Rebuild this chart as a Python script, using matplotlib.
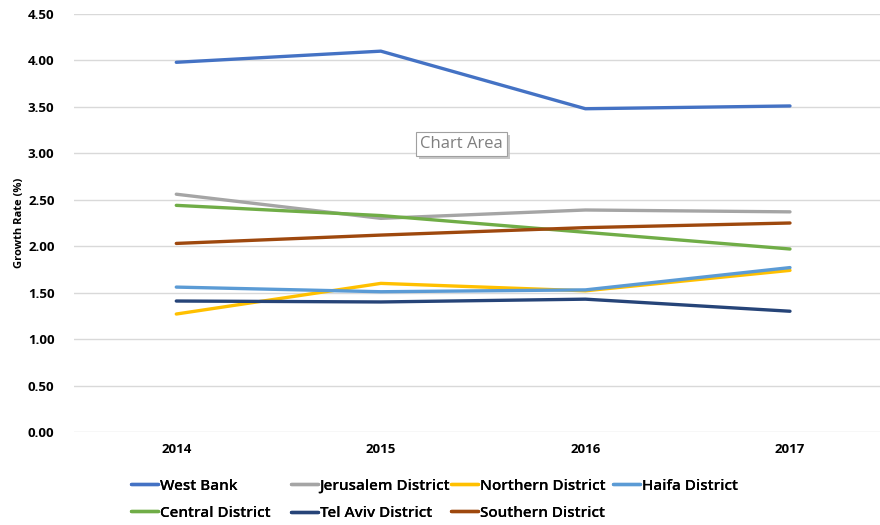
import numpy as np
import matplotlib.pyplot as plt
import matplotlib.patheffects as pe

years = ['2014', '2015', '2016', '2017']
west_bank = [3.98, 4.10, 3.48, 3.51]
jerusalem = [2.56, 2.30, 2.39, 2.37]
northern = [1.27, 1.60, 1.52, 1.74]
haifa = [1.56, 1.51, 1.53, 1.77]
central = [2.44, 2.33, 2.15, 1.97]
tel_aviv = [1.41, 1.40, 1.43, 1.30]
southern = [2.03, 2.12, 2.20, 2.25]

names = ['West Bank', 'Jerusalem District', 'Northern District', 'Haifa District',
         'Central District', 'Tel Aviv District', 'Southern District']
series = [west_bank, jerusalem, northern, haifa, central, tel_aviv, southern]
colors = ['#4472C4', '#A5A5A5', '#FFC000', '#5B9BD5', '#70AD47', '#264478', '#9E480E']

plt.rcParams['font.family'] = ['Open Sans', 'DejaVu Sans']

fig = plt.figure(figsize=(8.8, 5.25), dpi=100)
ax = fig.add_axes([74/880, 93/525, 1 - 74/880, 418/525])

x = np.arange(len(years))
lines = []
for vals, name, c in zip(series, names, colors):
    l, = ax.plot(x, vals, color=c, lw=2.4, label=name, solid_capstyle='round')
    lines.append(l)

ax.set_xlim(-0.5, 3.44)
ax.set_ylim(0, 4.5)
yt = np.arange(0, 4.51, 0.5)
ax.set_yticks(yt)
ax.set_yticklabels(['%.2f' % v for v in yt], fontsize=9.5, fontweight='bold')
ax.set_xticks(x)
ax.set_xticklabels(years, fontsize=9.5, fontweight='bold')
ax.tick_params(length=0, pad=8)
ax.tick_params(axis='y', pad=14)
ax.grid(axis='y', color='#D9D9D9', lw=1)
ax.set_axisbelow(True)
for s in ax.spines.values():
    s.set_visible(False)
ax.set_ylabel('Growth Rate (%)', fontsize=8, fontweight='bold', labelpad=2)

# legend laid out in fixed-width columns like Excel
cols = [[0, 4], [1, 5], [2, 6], [3]]
col_x = [123, 283, 443, 605]
for idx, cx in zip(cols, col_x):
    leg = fig.legend([lines[i] for i in idx], [names[i] for i in idx],
                     loc='upper left', bbox_to_anchor=(cx/880, 1 - 471/525),
                     frameon=False, borderpad=0, handlelength=1.8, handletextpad=0.1,
                     labelspacing=0.85, prop={'size': 11, 'weight': 'semibold'})
    fig.add_artist(leg)

# tooltip box with a soft shadow
tip = fig.text(420/880, 1 - 144/525, 'Chart Area', fontsize=12, color='#7F7F7F', va='center',
               bbox=dict(boxstyle='square,pad=0.25', fc='white', ec='#A0A0A0', lw=0.8))
tip.get_bbox_patch().set_path_effects([pe.SimplePatchShadow(offset=(2, -2), shadow_rgbFace='#BBBBBB', alpha=0.8),
                                       pe.Normal()])

fig.savefig('out.png', dpi=100)
